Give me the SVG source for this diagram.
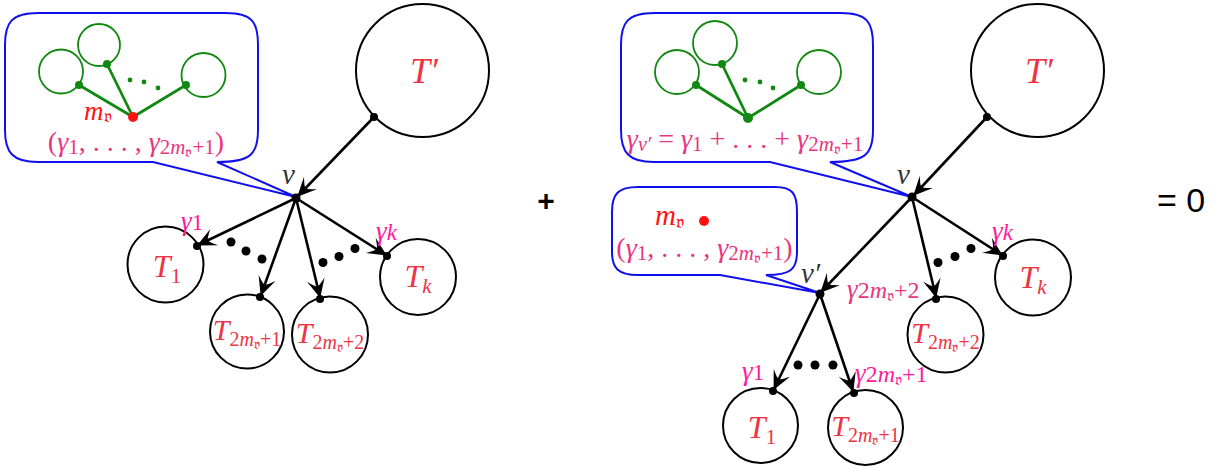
<svg xmlns="http://www.w3.org/2000/svg" width="1217" height="475" viewBox="0 0 1217 475">
<style>
.circ{fill:none;stroke:#000;stroke-width:2}
.edge{fill:none;stroke:#000;stroke-width:2.6;marker-end:url(#arr)}
.dot{fill:#000}
.bub{fill:none;stroke:#1010ee;stroke-width:2;stroke-linejoin:miter}
.gc{fill:none;stroke:#118811;stroke-width:1.8}
.gl{stroke:#118811;stroke-width:2.8;fill:none}
.gd{fill:#118811}
.m{font-family:"Liberation Serif","DejaVu Serif",serif}
.it{font-style:italic}
.tl{fill:#ee3344}
.gm{fill:#ff1a9c}
.bt{fill:#e8357f}
.red{fill:#ff1111}
.blk{fill:#333}
.sans{font-family:"Liberation Sans",Arial,sans-serif;fill:#000}
</style>
<defs>
<marker id="arr" markerUnits="userSpaceOnUse" viewBox="-20 -10 22 20" refX="0" refY="0" markerWidth="22" markerHeight="20" orient="auto">
<path d="M1,0 L-18,-9 Q-11,-2 -11,0 Q-11,2 -18,9 Z" fill="#000"/>
</marker>
</defs>

<g id="connectors">
<line class="edge" x1="374" y1="117" x2="298" y2="196"/>
<line class="edge" x1="296" y1="198" x2="198" y2="245"/>
<line class="edge" x1="296" y1="198" x2="261" y2="295"/>
<line class="edge" x1="296" y1="198" x2="320" y2="297"/>
<line class="edge" x1="296" y1="198" x2="386" y2="255"/>
<line class="edge" x1="987" y1="117" x2="914" y2="195"/>
<line class="edge" x1="912" y1="197" x2="821" y2="292"/>
<line class="edge" x1="912" y1="197" x2="936" y2="297"/>
<line class="edge" x1="912" y1="197" x2="1002" y2="255"/>
<line class="edge" x1="820" y1="294" x2="774" y2="389"/>
<line class="edge" x1="820" y1="294" x2="853" y2="391"/>
</g>

<g id="bubble-left">
<path class="bub" d="M38,13 H226 C252,13 258,22 258,45 V130 C258,155 250,162 217,162 L296,197 L153,162 H38 C12,162 5,152 5,130 V45 C5,22 12,13 38,13 Z"/>
<circle class="gc" cx="61" cy="71.5" r="22"/>
<circle class="gc" cx="99" cy="45" r="21"/>
<circle class="gc" cx="203.5" cy="75" r="22"/>
<line class="gl" x1="133" y1="117" x2="79" y2="85"/>
<line class="gl" x1="133" y1="117" x2="107" y2="64"/>
<line class="gl" x1="133" y1="117" x2="186" y2="85"/>
<circle class="gd" cx="79" cy="85" r="4"/>
<circle class="gd" cx="107" cy="64" r="4"/>
<circle class="gd" cx="186" cy="85" r="4"/>
<circle class="gd" cx="130" cy="80" r="2.4"/>
<circle class="gd" cx="144" cy="82" r="2.4"/>
<circle class="gd" cx="158" cy="88" r="2.4"/>
<circle fill="#ff1111" cx="133" cy="117" r="5"/>
<text class="m red" x="84" y="120" font-size="27"><tspan class="it">m</tspan><tspan font-size="18" dy="2">𝔳</tspan></text>
<text class="m bt" x="136" y="151" font-size="28" text-anchor="middle">(<tspan class="it">γ</tspan><tspan font-size="21" dy="3">1</tspan><tspan dy="-3">, . . . , </tspan><tspan class="it">γ</tspan><tspan font-size="21" dy="3">2<tspan class="it">m</tspan><tspan font-size="15" dy="3">𝔳</tspan><tspan dy="-3">+1</tspan></tspan><tspan dy="-3">)</tspan></text>
</g>

<g id="Tprime-left">
<circle class="circ" cx="422.5" cy="70.5" r="66.5"/>
<text class="m it tl" x="424" y="83" font-size="36" text-anchor="middle">T′</text>
<circle class="dot" cx="374" cy="117" r="4"/>
</g>

<g id="v-left">
<circle class="dot" cx="296" cy="198" r="4.5"/>
<text class="m it blk" x="282" y="184" font-size="29">v</text>
</g>

<g id="T1-left">
<circle class="circ" cx="165.5" cy="264.5" r="38"/>
<text class="m tl" x="167" y="277" font-size="32" text-anchor="middle"><tspan class="it">T</tspan><tspan font-size="21" dy="6">1</tspan></text>
<circle class="dot" cx="197" cy="246" r="4"/>
<text class="m gm" x="181" y="230" font-size="27"><tspan class="it">γ</tspan><tspan font-size="23">1</tspan></text>
</g>

<g id="T2m1-left">
<circle class="circ" cx="247" cy="331.5" r="37"/>
<text class="m tl" x="247" y="340" font-size="30" text-anchor="middle"><tspan class="it">T</tspan><tspan font-size="20" dy="6">2<tspan class="it">m</tspan><tspan font-size="14" dy="3">𝔳</tspan><tspan dy="-3">+1</tspan></tspan></text>
<circle class="dot" cx="260" cy="297" r="4"/>
</g>

<g id="T2m2-left">
<circle class="circ" cx="330" cy="334.5" r="38"/>
<text class="m tl" x="330" y="343" font-size="30" text-anchor="middle"><tspan class="it">T</tspan><tspan font-size="20" dy="6">2<tspan class="it">m</tspan><tspan font-size="14" dy="3">𝔳</tspan><tspan dy="-3">+2</tspan></tspan></text>
<circle class="dot" cx="320" cy="299" r="4"/>
</g>

<g id="Tk-left">
<circle class="circ" cx="418" cy="277" r="38"/>
<text class="m it tl" x="418" y="287" font-size="32" text-anchor="middle">T<tspan font-size="21" dy="6">k</tspan></text>
<circle class="dot" cx="387" cy="256" r="4"/>
<text class="m it gm" x="376" y="240" font-size="27">γ<tspan font-size="23">k</tspan></text>
</g>

<g id="ellipsis-left">
<circle class="dot" cx="231" cy="242" r="4.5"/>
<circle class="dot" cx="246" cy="251" r="4.5"/>
<circle class="dot" cx="262" cy="259" r="4.5"/>
<circle class="dot" cx="323" cy="262.5" r="4.5"/>
<circle class="dot" cx="339" cy="256.5" r="4.5"/>
<circle class="dot" cx="355" cy="248.5" r="4.5"/>
</g>

<g id="plus">
<text class="sans" x="546" y="211" font-size="30" font-weight="bold" text-anchor="middle">+</text>
</g>

<g id="bubble-right-top">
<path class="bub" d="M654,13 H841 C867,13 873,22 873,45 V130 C873,155 865,162 830,162 L912,197 L770,162 H654 C628,162 621,152 621,130 V45 C621,22 628,13 654,13 Z"/>
<circle class="gc" cx="677" cy="72" r="22"/>
<circle class="gc" cx="715" cy="43" r="22"/>
<circle class="gc" cx="819" cy="72" r="22"/>
<line class="gl" x1="748" y1="118" x2="696" y2="85"/>
<line class="gl" x1="748" y1="118" x2="722" y2="64"/>
<line class="gl" x1="748" y1="118" x2="801" y2="85"/>
<circle class="gd" cx="696" cy="85" r="4"/>
<circle class="gd" cx="722" cy="64" r="4"/>
<circle class="gd" cx="801" cy="85" r="4"/>
<circle class="gd" cx="748" cy="118" r="5"/>
<circle class="gd" cx="745" cy="80" r="2.4"/>
<circle class="gd" cx="760" cy="82" r="2.4"/>
<circle class="gd" cx="773" cy="88" r="2.4"/>
<text class="m bt" x="745" y="148" font-size="28" text-anchor="middle"><tspan class="it">γ</tspan><tspan class="it" font-size="20" dy="3">v′</tspan><tspan dy="-3"> = </tspan><tspan class="it">γ</tspan><tspan font-size="21" dy="3">1</tspan><tspan dy="-3"> + . . . + </tspan><tspan class="it">γ</tspan><tspan font-size="21" dy="3">2<tspan class="it">m</tspan><tspan font-size="15" dy="3">𝔳</tspan><tspan dy="-3">+1</tspan></tspan></text>
</g>

<g id="bubble-right-bottom">
<path class="bub" d="M638,187 H775 C793,187 797,194 797,212 V252 C797,270 790,275 766,275 L820,293 L720,275 H638 C618,275 612,268 612,252 V212 C612,194 618,187 638,187 Z"/>
<text class="m red" x="655" y="225" font-size="29"><tspan class="it">m</tspan><tspan font-size="19" dy="3">𝔳</tspan></text>
<circle fill="#ff1111" cx="704" cy="221" r="5"/>
<text class="m bt" x="704.5" y="257" font-size="28" text-anchor="middle">(<tspan class="it">γ</tspan><tspan font-size="21" dy="3">1</tspan><tspan dy="-3">, . . . , </tspan><tspan class="it">γ</tspan><tspan font-size="21" dy="3">2<tspan class="it">m</tspan><tspan font-size="15" dy="3">𝔳</tspan><tspan dy="-3">+1</tspan></tspan><tspan dy="-3">)</tspan></text>
</g>

<g id="Tprime-right">
<circle class="circ" cx="1037.5" cy="70.5" r="66.5"/>
<text class="m it tl" x="1039" y="83" font-size="36" text-anchor="middle">T′</text>
<circle class="dot" cx="987" cy="117" r="4"/>
</g>

<g id="v-right">
<circle class="dot" cx="912" cy="197" r="4.5"/>
<text class="m it blk" x="897" y="184" font-size="29">v</text>
</g>

<g id="vprime-right">
<circle class="dot" cx="820" cy="294" r="4.5"/>
<text class="m it blk" x="801" y="283" font-size="29">v′</text>
</g>

<g id="T2m2-right">
<circle class="circ" cx="945.5" cy="334.5" r="38"/>
<text class="m tl" x="945.5" y="343" font-size="30" text-anchor="middle"><tspan class="it">T</tspan><tspan font-size="20" dy="6">2<tspan class="it">m</tspan><tspan font-size="14" dy="3">𝔳</tspan><tspan dy="-3">+2</tspan></tspan></text>
<circle class="dot" cx="936" cy="299" r="4"/>
<text class="m bt" x="847" y="298" font-size="27"><tspan class="it">γ</tspan><tspan font-size="24">2<tspan class="it">m</tspan><tspan font-size="16" dy="3">𝔳</tspan><tspan dy="-3">+2</tspan></tspan></text>
</g>

<g id="Tk-right">
<circle class="circ" cx="1033" cy="277.5" r="38"/>
<text class="m it tl" x="1033" y="288" font-size="32" text-anchor="middle">T<tspan font-size="21" dy="6">k</tspan></text>
<circle class="dot" cx="1003" cy="256" r="4"/>
<text class="m it gm" x="992" y="240" font-size="27">γ<tspan font-size="23">k</tspan></text>
</g>

<g id="T1-right">
<circle class="circ" cx="760.5" cy="425.5" r="37.5"/>
<text class="m tl" x="762" y="438" font-size="32" text-anchor="middle"><tspan class="it">T</tspan><tspan font-size="21" dy="6">1</tspan></text>
<circle class="dot" cx="773" cy="391" r="4"/>
<text class="m gm" x="742" y="380" font-size="27"><tspan class="it">γ</tspan><tspan font-size="23">1</tspan></text>
</g>

<g id="T2m1-right">
<circle class="circ" cx="865.5" cy="427.5" r="37.5"/>
<text class="m tl" x="865.5" y="436" font-size="30" text-anchor="middle"><tspan class="it">T</tspan><tspan font-size="20" dy="6">2<tspan class="it">m</tspan><tspan font-size="14" dy="3">𝔳</tspan><tspan dy="-3">+1</tspan></tspan></text>
<circle class="dot" cx="854" cy="393" r="4"/>
<text class="m gm" x="855" y="382" font-size="27"><tspan class="it">γ</tspan><tspan font-size="24">2<tspan class="it">m</tspan><tspan font-size="16" dy="3">𝔳</tspan><tspan dy="-3">+1</tspan></tspan></text>
</g>

<g id="ellipsis-right">
<circle class="dot" cx="798" cy="365" r="4.5"/>
<circle class="dot" cx="815" cy="365" r="4.5"/>
<circle class="dot" cx="833" cy="365" r="4.5"/>
<circle class="dot" cx="938" cy="262.5" r="4.5"/>
<circle class="dot" cx="955" cy="256.5" r="4.5"/>
<circle class="dot" cx="971" cy="248.5" r="4.5"/>
</g>

<g id="equals-zero">
<text class="sans" x="1157" y="212" font-size="34">= 0</text>
</g>
</svg>
